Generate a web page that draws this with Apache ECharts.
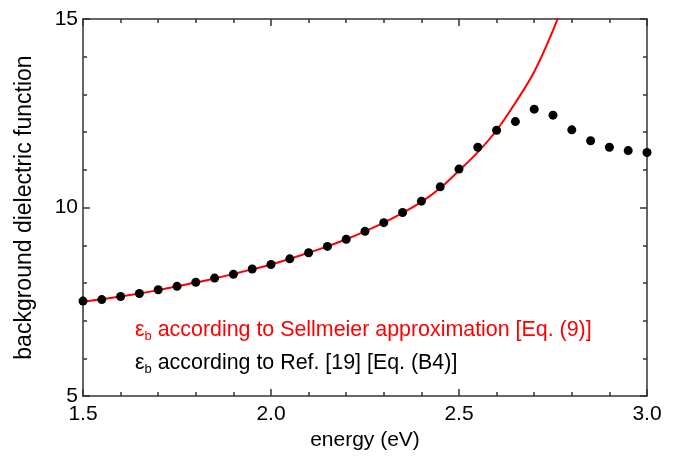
<!DOCTYPE html>
<html>
<head>
<meta charset="utf-8">
<script src="https://cdn.jsdelivr.net/npm/echarts@6/dist/echarts.min.js"></script>
<style>
  html, body { margin: 0; padding: 0; background: #fff; }
  #chart { width: 689px; height: 456px; }
</style>
</head>
<body>
<div id="chart"></div>
<script>
// energy (eV) for the dots of Ref. [19]
var energiaRef = [1.50, 1.55, 1.60, 1.65, 1.70, 1.75, 1.80, 1.85, 1.90, 1.95,
                  2.00, 2.05, 2.10, 2.15, 2.20, 2.25, 2.30, 2.35, 2.40, 2.45,
                  2.50, 2.55, 2.60, 2.65, 2.70, 2.75, 2.80, 2.85, 2.90, 2.95, 3.00];
var epsRef = [7.52, 7.56, 7.64, 7.72, 7.82, 7.91, 8.02, 8.13, 8.23, 8.37,
              8.49, 8.64, 8.80, 8.97, 9.16, 9.37, 9.60, 9.87, 10.17, 10.55,
              11.02, 11.60, 12.05, 12.28, 12.61, 12.45, 12.06, 11.77, 11.60, 11.51, 11.46];

// Sellmeier curve
var energiaSell = [1.50, 1.55, 1.60, 1.65, 1.70, 1.75, 1.80, 1.85, 1.90, 1.95,
                   2.00, 2.05, 2.10, 2.15, 2.20, 2.25, 2.30, 2.35, 2.40, 2.45,
                   2.50, 2.55, 2.60, 2.65, 2.70, 2.75, 2.80];
var epsSell = [7.50, 7.57, 7.64, 7.72, 7.81, 7.91, 8.01, 8.12, 8.24, 8.36,
               8.49, 8.64, 8.80, 8.97, 9.16, 9.37, 9.60, 9.86, 10.15, 10.52,
               10.98, 11.47, 12.05, 12.78, 13.60, 14.70, 16.00];

var xTicks = [1.5, 2.0, 2.5, 3.0];
var yTicks = [5, 10, 15];

var nombreSell = 'Sellmeier';
var nombreRef = 'Ref19';

function pares(xs, ys) {
    return xs.map(function(x, i) { return [x, ys[i]]; });
}

var fuente = 'Liberation Sans, Arial, sans-serif';
var colorEje = '#333';

var ejeBase = {
    type: 'value',
    axisLine: { show: true, onZero: false, lineStyle: { color: colorEje, width: 1.5 } },
    axisTick: { show: true, inside: true, length: 7, lineStyle: { color: colorEje, width: 1.5 } },
    minorTick: { show: true, splitNumber: 5, length: 4, lineStyle: { color: colorEje, width: 1.5 } },
    splitLine: { show: false },
    axisLabel: { color: '#000', fontSize: 21, fontFamily: fuente }
};

function eje(extra) {
    return echarts.util.merge(echarts.util.clone(ejeBase), extra, true);
}

function estiloLeyenda(color) {
    return {
        color: color,
        rich: {
            e: { color: color, fontSize: 21.4, lineHeight: 28, fontFamily: fuente },
            s: { color: color, fontSize: 13, lineHeight: 16, fontFamily: fuente, padding: [12, 0, 0, 0] }
        }
    };
}

var grafico = echarts.init(document.getElementById('chart'));
grafico.setOption({
    animation: false,
    grid: { left: 83, right: 42, top: 19, bottom: 57 },
    legend: {
        orient: 'vertical',
        left: 130,
        top: 318,
        padding: 0,
        itemGap: 8,
        icon: 'none',
        itemWidth: 0,
        selectedMode: false,
        data: [
            { name: nombreSell, textStyle: estiloLeyenda('#ff0000') },
            { name: nombreRef, textStyle: estiloLeyenda('#000') }
        ],
        formatter: function(nombre) {
            if (nombre === nombreSell) {
                return '{e|\u03b5}{s|b}{e| according to Sellmeier approximation [Eq. (9)]}';
            }
            return '{e|\u03b5}{s|b}{e| according to Ref. [19] [Eq. (B4)]}';
        }
    },
    xAxis: [
        eje({
            min: 1.5, max: 3.0, interval: 0.5, position: 'bottom',
            name: 'energy (eV)', nameLocation: 'middle', nameGap: 30,
            nameTextStyle: { color: '#000', fontSize: 21, fontFamily: fuente },
            axisLabel: {
                margin: 8,
                formatter: function(v) {
                    return xTicks.indexOf(+v.toFixed(1)) >= 0 ? v.toFixed(1) : '';
                }
            }
        }),
        eje({ min: 1.5, max: 3.0, interval: 0.5, position: 'top', axisLabel: { show: false } })
    ],
    yAxis: [
        eje({
            min: 5, max: 15, interval: 5, position: 'left',
            name: 'background dielectric function', nameLocation: 'middle', nameGap: 47,
            nameTextStyle: { color: '#000', fontSize: 23, fontFamily: fuente },
            axisLabel: {
                margin: 5,
                formatter: function(v) { return yTicks.indexOf(v) >= 0 ? String(v) : ''; }
            }
        }),
        eje({ min: 5, max: 15, interval: 5, position: 'right', axisLabel: { show: false } })
    ],
    series: [
        {
            name: nombreSell,
            type: 'line',
            data: pares(energiaSell, epsSell),
            smooth: 0.4,
            showSymbol: false,
            clip: true,
            lineStyle: { color: '#ff0000', width: 2 },
            itemStyle: { color: '#ff0000' },
            z: 2
        },
        {
            name: nombreRef,
            type: 'scatter',
            data: pares(energiaRef, epsRef),
            symbol: 'circle',
            symbolSize: 9,
            clip: false,
            itemStyle: { color: '#000', opacity: 1 },
            z: 3
        }
    ]
});
</script>
</body>
</html>
